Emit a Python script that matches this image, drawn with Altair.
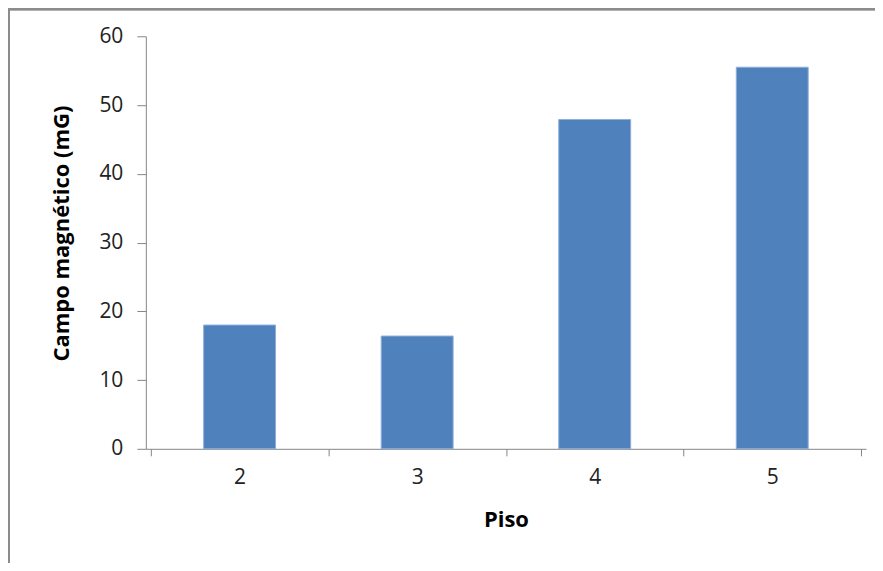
import altair as alt
import pandas as pd

pisos = [2, 3, 4, 5]
campo = [18.0, 16.4, 47.9, 55.5]
x_ticks = [1.5, 2, 2.5, 3, 3.5, 4, 4.5, 5, 5.5]
y_ticks = [0, 10, 20, 30, 40, 50, 60]

df = pd.DataFrame({"Piso": pisos, "Campo": campo})

FONT = "Open Sans"
GRAY = "#868686"

bars = alt.Chart(df).mark_bar(
    size=72, color="#4F81BD", stroke="#8EAEDB", strokeWidth=1
).encode(
    x=alt.X(
        "Piso:Q",
        scale=alt.Scale(domain=[1.5, 5.5], nice=False, zero=False),
        axis=alt.Axis(
            title="Piso",
            values=x_ticks,
            labelExpr="datum.value % 1 == 0 ? format(datum.value, 'd') : ''",
            labelOverlap=False,
            tickOpacity=alt.condition("datum.value % 1 == 0", alt.value(0), alt.value(1)),
            grid=False,
            domainColor=GRAY,
            tickColor=GRAY,
            tickSize=7,
            labelFont=FONT,
            labelFontSize=21,
            labelColor="#222222",
            labelPadding=11,
            titleFont=FONT,
            titleFontSize=22,
            titleFontWeight="bold",
            titleColor="#000000",
            titleBaseline="middle",
            titleY=71,
        ),
    ),
    y=alt.Y(
        "Campo:Q",
        scale=alt.Scale(domain=[0, 60], nice=False),
        axis=alt.Axis(
            title="Campo magnético (mG)",
            values=y_ticks,
            grid=False,
            domainColor=GRAY,
            tickColor=GRAY,
            tickSize=9,
            labelFont=FONT,
            labelFontSize=21,
            labelColor="#222222",
            labelPadding=14,
            titleFont=FONT,
            titleFontSize=22,
            titleFontWeight="bold",
            titleColor="#000000",
            titleBaseline="middle",
            titleAlign="center",
            titleX=-84,
            titleY=197,
        ),
    ),
)

frame_left = alt.Chart(df).mark_rule(color="#8C8C8C", strokeWidth=2).encode(
    x=alt.value(-137), y=alt.value(-27), y2=alt.value(600)
)
frame_top = alt.Chart(df).mark_rule(color="#8C8C8C", strokeWidth=2).encode(
    x=alt.value(-138), x2=alt.value(760), y=alt.value(-27)
)

chart = alt.layer(frame_left, frame_top, bars).properties(
    width=721,
    height=413,
    autosize=alt.AutoSizeParams(type="none"),
    padding={"left": 138, "top": 28, "right": 9, "bottom": 114},
    background="white",
).configure_view(stroke=None)

chart.save("out.html", embed_options={"renderer": "svg", "actions": False})
